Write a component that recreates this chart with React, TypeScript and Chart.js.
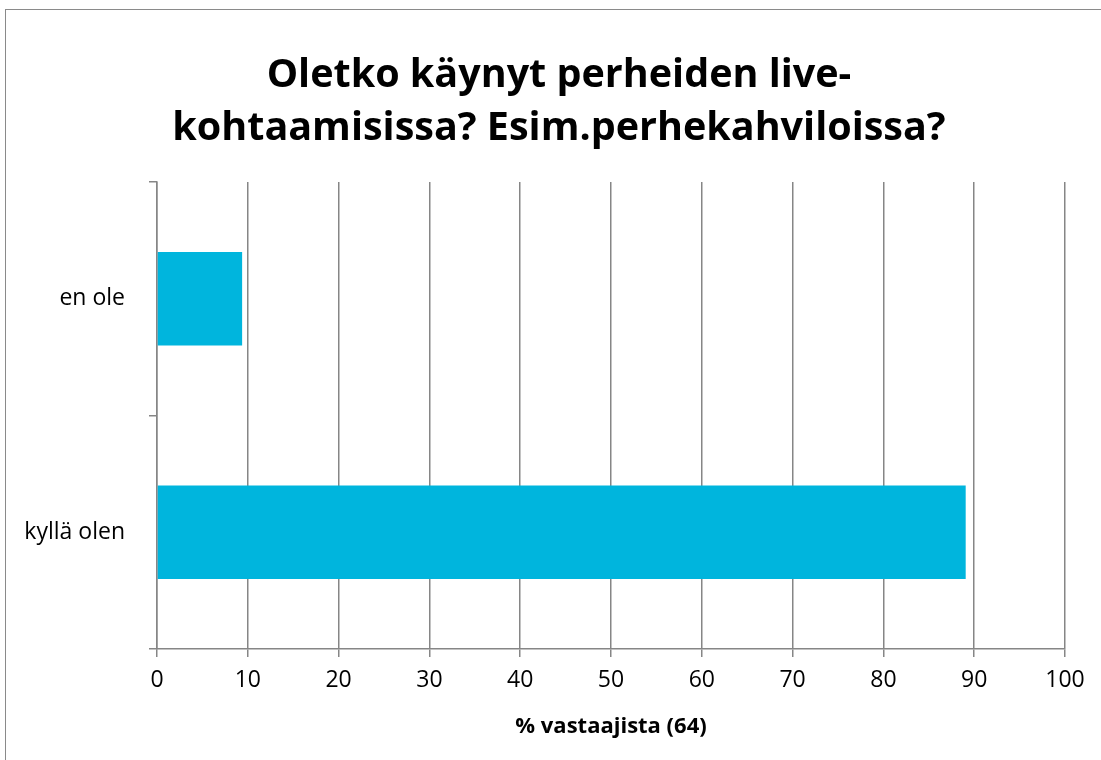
import React, { useEffect, useRef } from "react";
import { Chart, registerables } from "chart.js";

Chart.register(...registerables);

const titleLines = ["Oletko käynyt perheiden live-", "kohtaamisissa? Esim.perhekahviloissa?"];
const categories = ["en ole", "kyllä olen"];
const values = [9.375, 89.0625];
const xAxisTitle = "% vastaajista (64)";
const xMin = 0;
const xMax = 100;
const xStep = 10;

const FONT = "'Open Sans', Lato, 'Noto Sans', sans-serif";
const GRID = "#868686";
const BAR = "#00B5DD";

// Shifts the title block so its centre sits where the reference puts it.
const titleShift = {
  id: "titleShift",
  afterLayout(chart: any) {
    const tb = chart.titleBlock;
    if (tb) {
      tb.left = 53;
      tb.width = tb.right - tb.left;
    }
  },
};

export default function App() {
  const ref = useRef<HTMLCanvasElement | null>(null);

  useEffect(() => {
    if (!ref.current) return;
    const chart = new Chart(ref.current, {
      type: "bar",
      data: {
        labels: categories,
        datasets: [
          {
            data: values,
            backgroundColor: BAR,
            borderWidth: 0,
            categoryPercentage: 1,
            barPercentage: 0.4,
          },
        ],
      },
      plugins: [titleShift],
      options: {
        indexAxis: "y",
        responsive: false,
        animation: false,
        layout: { padding: { left: 0, right: 36, top: 0, bottom: 0 } },
        plugins: {
          legend: { display: false },
          tooltip: { enabled: false },
          title: {
            display: true,
            text: titleLines,
            color: "#000",
            font: { family: FONT, size: 39.5, weight: "bold", lineHeight: 1.342 },
            padding: { top: 49, bottom: 27 },
          },
        },
        scales: {
          x: {
            type: "linear",
            min: xMin,
            max: xMax,
            ticks: {
              stepSize: xStep,
              color: "#000",
              font: { family: FONT, size: 23 },
              padding: 10,
            },
            grid: {
              color: GRID,
              lineWidth: 1.5,
              tickLength: 8,
              drawTicks: true,
            },
            border: { display: true, color: GRID, width: 1.5 },
            title: {
              display: true,
              text: xAxisTitle,
              color: "#000",
              font: { family: FONT, size: 22, weight: "bold" },
              padding: { top: 0, bottom: 20 },
            },
            afterFit: (s: any) => {
              s.height = 111;
            },
          },
          y: {
            type: "category",
            ticks: {
              color: "#000",
              font: { family: FONT, size: 23 },
              padding: 24,
            },
            grid: {
              color: GRID,
              lineWidth: 1.5,
              tickLength: 8,
              drawOnChartArea: false,
              offset: true,
            },
            border: { display: true, color: GRID, width: 1.5 },
            afterFit: (s: any) => {
              s.width = 157;
            },
          },
        },
      },
    });
    return () => chart.destroy();
  }, []);

  return (
    <div
      style={{
        position: "fixed",
        left: 0,
        top: 0,
        width: 1101,
        height: 760,
        overflow: "hidden",
        background: "#fff",
      }}
    >
      <div
        style={{
          position: "absolute",
          left: 5,
          top: 9,
          width: 1200,
          height: 900,
          borderLeft: "1.5px solid #8a8a8a",
          borderTop: "1.5px solid #8a8a8a",
        }}
      />
      <canvas ref={ref} width={1101} height={760} style={{ position: "absolute", left: 0, top: 0 }} />
    </div>
  );
}
